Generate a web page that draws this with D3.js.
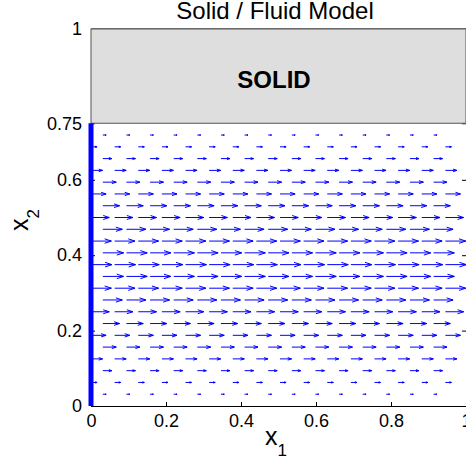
<!DOCTYPE html>
<html>
<head>
<meta charset="utf-8">
<script src="https://cdn.jsdelivr.net/npm/d3@7"></script>
<style>
  body { margin: 0; background: #fff; overflow: hidden; }
  svg { display: block; font-family: "Liberation Sans", Arial, sans-serif; }
</style>
</head>
<body>
<svg id="chart" width="466" height="461"></svg>
<script>
// staggered grid: even rows start at x = 0, odd rows are shifted half a cell
let evenCols = [0, 0.063, 0.126, 0.189, 0.252, 0.315, 0.378, 0.441, 0.504, 0.567, 0.630, 0.693, 0.756, 0.819, 0.882, 0.945];
let oddCols = [0.0315, 0.0945, 0.1575, 0.2205, 0.2835, 0.3465, 0.4095, 0.4725, 0.5355, 0.5985, 0.6615, 0.7245, 0.7875, 0.8505, 0.9135];

let rowY = [0.03125, 0.0625, 0.09375, 0.125, 0.15625, 0.1875, 0.21875, 0.25, 0.28125, 0.3125, 0.34375, 0.375,
            0.40625, 0.4375, 0.46875, 0.5, 0.53125, 0.5625, 0.59375, 0.625, 0.65625, 0.6875, 0.71875];
let rowU = [0.16, 0.29, 0.43, 0.55, 0.64, 0.72, 0.80, 0.87, 0.93, 0.97, 0.99, 1.00,
            0.99, 0.97, 0.93, 0.87, 0.80, 0.72, 0.64, 0.55, 0.43, 0.29, 0.16];

let xTicks = [0, 0.2, 0.4, 0.6, 0.8, 1];
let yTicks = [0, 0.2, 0.4, 0.6, 0.75, 1];
let solidBottom = 0.75;
let arrowScale = 0.056;   // data units per unit velocity

let svg = d3.select('#chart');
let plotLeft = 91, plotRight = 466, plotTop = 29, plotBottom = 406;

let xScale = d3.scaleLinear().domain([0, 1]).range([plotLeft, plotRight]);
let yScale = d3.scaleLinear().domain([0, 1]).range([plotBottom, plotTop]);

svg.append('defs').append('clipPath').attr('id', 'plotClip')
  .append('rect')
  .attr('x', plotLeft).attr('y', plotTop)
  .attr('width', plotRight - plotLeft).attr('height', plotBottom - plotTop);

// axes (drawn under the data, like the MATLAB default layer)
let xAxis = d3.axisBottom(xScale).tickValues(xTicks).tickSizeInner(-4).tickSizeOuter(0)
  .tickPadding(8).tickFormat(d3.format('~g'));
svg.append('g')
  .attr('transform', `translate(0, ${plotBottom})`)
  .call(xAxis)
  .call(g => g.selectAll('text').attr('font-size', 18).attr('fill', '#000'))
  .call(g => g.select('.domain').attr('stroke', '#000'));

let yAxis = d3.axisLeft(yScale).tickValues(yTicks).tickSizeInner(-4).tickSizeOuter(0)
  .tickPadding(9).tickFormat(d3.format('~g'));
svg.append('g')
  .attr('transform', `translate(${plotLeft}, 0)`)
  .call(yAxis)
  .call(g => g.selectAll('text').attr('font-size', 18).attr('fill', '#000'))
  .call(g => g.select('.domain').attr('stroke', '#000'));

let yAxisRight = d3.axisRight(yScale).tickValues(yTicks).tickSizeInner(-4).tickSizeOuter(0).tickFormat('');
svg.append('g')
  .attr('transform', `translate(${plotRight}, 0)`)
  .call(yAxisRight);

svg.append('line')
  .attr('x1', plotLeft).attr('x2', plotRight)
  .attr('y1', plotTop).attr('y2', plotTop)
  .attr('stroke', '#000');

// solid region
svg.append('rect')
  .attr('x', xScale(0))
  .attr('y', yScale(1))
  .attr('width', xScale(1) - xScale(0))
  .attr('height', yScale(solidBottom) - yScale(1))
  .attr('fill', '#dedede')
  .attr('stroke', '#555')
  .attr('stroke-width', 1);

svg.append('text')
  .attr('x', 274)
  .attr('y', 88)
  .attr('text-anchor', 'middle')
  .attr('font-size', 24)
  .attr('font-weight', 'bold')
  .text('SOLID');

// quiver arrows
let arrows = [];
rowY.forEach(function(y, j) {
  let cols = (j % 2 === 0) ? oddCols : evenCols;
  cols.forEach(function(x) {
    arrows.push({x: x, y: y, u: rowU[j] * arrowScale});
  });
});

let quiver = svg.append('g')
  .attr('clip-path', 'url(#plotClip)')
  .attr('stroke', '#0000ff')
  .attr('stroke-width', 1)
  .attr('fill', 'none');

quiver.selectAll('path')
  .data(arrows).enter().append('path')
  .attr('d', function(d) {
    let x0 = xScale(d.x), y0 = yScale(d.y);
    let x1 = xScale(d.x + d.u);
    let len = x1 - x0;
    let hl = 0.33 * len, hw = 0.33 * 0.33 * len;
    return `M${x0},${y0}L${x1},${y0}M${x1 - hl},${y0 - hw}L${x1},${y0}L${x1 - hl},${y0 + hw}`;
  });

// inflow wall
svg.append('line')
  .attr('x1', xScale(0)).attr('x2', xScale(0))
  .attr('y1', yScale(0)).attr('y2', yScale(solidBottom))
  .attr('stroke', '#0000ff')
  .attr('stroke-width', 5);

// title and axis labels
svg.append('text')
  .attr('x', 275)
  .attr('y', 19)
  .attr('text-anchor', 'middle')
  .attr('font-size', 24)
  .text('Solid / Fluid Model');

let xl = svg.append('text')
  .attr('x', 265)
  .attr('y', 445)
  .attr('font-size', 25);
xl.append('tspan').text('x');
xl.append('tspan').attr('font-size', 17).attr('dy', 11).text('1');

let yl = svg.append('text')
  .attr('transform', 'translate(28, 231) rotate(-90)')
  .attr('font-size', 25);
yl.append('tspan').text('x');
yl.append('tspan').attr('font-size', 17).attr('dy', 11).text('2');
</script>
</body>
</html>
